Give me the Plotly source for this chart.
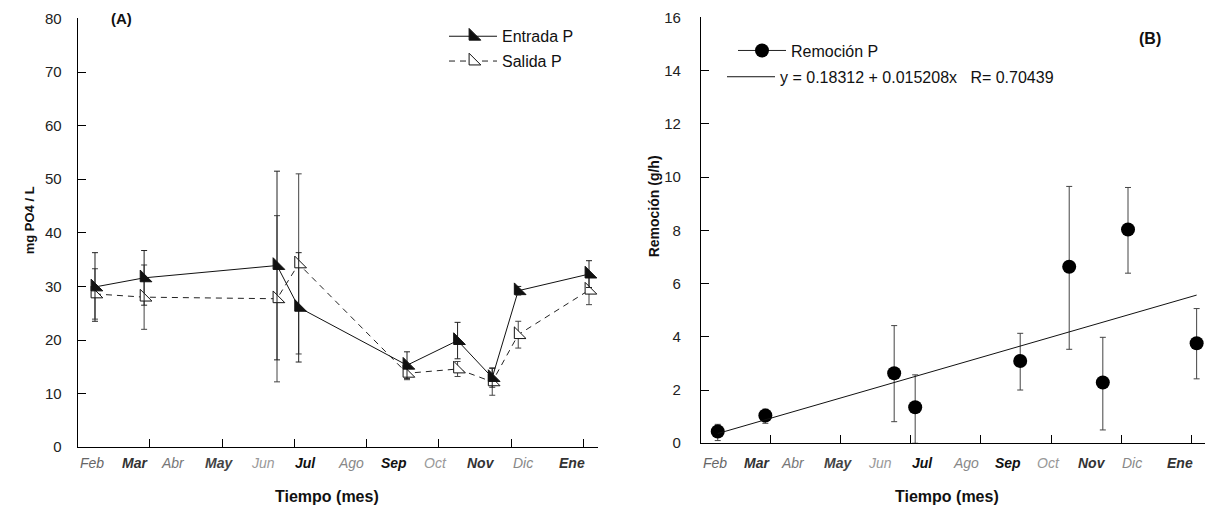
import plotly.graph_objects as go

# ---------------- data ----------------
days = [12, 46, 138, 153, 228, 263, 287, 305, 354]          # sampling day

entrada = [29.9, 31.6, 33.9, 26.1, 15.3, 19.9, 13.0, 29.2, 32.3]
entrada_err = [6.4, 5.1, 17.6, 10.2, 2.5, 3.4, 1.8, 0.8, 2.5]
salida = [28.6, 28.0, 27.7, 34.2, 13.8, 14.6, 12.2, 21.0, 29.3]
salida_err = [4.7, 6.0, 15.5, 16.8, 1.2, 1.4, 2.5, 2.5, 2.7]

remocion = [0.44, 1.04, 2.63, 1.35, 3.09, 6.63, 2.28, 8.03, 3.76]
remocion_up = [0.27, 0.24, 1.79, 1.22, 1.04, 3.02, 1.70, 1.58, 1.30]
remocion_dn = [0.34, 0.29, 1.82, 1.35, 1.09, 3.10, 1.78, 1.64, 1.34]

reg_a = 0.18312
reg_b = 0.015208
reg_label = "y = 0.18312 + 0.015208x\u00a0\u00a0\u00a0R= 0.70439"

month_labels = ["Feb", "Mar", "Abr", "May", "Jun", "Jul", "Ago", "Sep", "Oct", "Nov", "Dic", "Ene"]
month_pos = [10, 40, 66, 98, 128, 158, 189, 219, 248, 279, 308, 342]
month_bold = [False, True, False, True, False, True, False, True, False, True, False, True]
month_color = ["#666", "#333", "#777", "#444", "#999", "#111", "#888", "#111", "#999", "#333", "#888", "#333"]

FONT = "Liberation Sans, Arial, sans-serif"
W, H = 1225, 510


def py(y):
    """target pixel row -> paper fraction (compensates the capture's vertical mapping)"""
    return 1 - ((y - 8.6) / 0.967) / H


def px(x):
    return x / W


fig = go.Figure()

# ---------------- panel A ----------------
fig.add_trace(go.Scatter(
    x=days, y=salida, name="Salida P", mode="lines+markers",
    line=dict(color="#222", width=1, dash="6px,5px"),
    marker=dict(symbol="triangle-sw", size=13, color="white", line=dict(color="#111", width=1)),
    error_y=dict(type="data", array=salida_err, color="#444", thickness=1, width=3),
    xaxis="x", yaxis="y", legend="legend", legendrank=2, legendgroup="s",
))
fig.add_trace(go.Scatter(
    x=days, y=entrada, name="Entrada P", mode="lines+markers",
    line=dict(color="#111", width=1),
    marker=dict(symbol="triangle-sw", size=13, color="#111", line=dict(color="#111", width=1)),
    error_y=dict(type="data", array=entrada_err, color="#222", thickness=1, width=3),
    xaxis="x", yaxis="y", legend="legend", legendrank=1, legendgroup="e",
))

# ---------------- panel B ----------------
# interleave None so that the points are not connected but the legend shows a line
xb, yb, ub, db = [], [], [], []
for d, v, u, l in zip(days, remocion, remocion_up, remocion_dn):
    xb += [d, None]
    yb += [v, None]
    ub += [u, None]
    db += [l, None]

fig.add_trace(go.Scatter(
    x=xb, y=yb, name="Remoción P", mode="lines+markers", connectgaps=False,
    line=dict(color="#222", width=1),
    marker=dict(symbol="circle", size=14, color="black"),
    error_y=dict(type="data", symmetric=False, array=ub, arrayminus=db,
                 color="#444", thickness=1, width=3),
    xaxis="x2", yaxis="y2", legend="legend2",
))
xr = [min(days), max(days)]
yr = [reg_a + reg_b * v for v in xr]
fig.add_trace(go.Scatter(
    x=xr, y=yr, name=reg_label, mode="lines",
    line=dict(color="#111", width=1),
    xaxis="x2", yaxis="y2", legend="legend3",
))

# ---------------- axes ----------------
axis_common = dict(showline=True, linecolor="black", linewidth=1, ticks="inside",
                   ticklen=8, tickcolor="black", showgrid=False, zeroline=False,
                   tickfont=dict(family=FONT, size=15, color="#222"))
xt = [50, 100, 150, 200, 250, 300, 350]
fig.update_layout(
    xaxis=dict(domain=[0.0634, 0.4879], range=[0, 360], tickvals=xt,
               showticklabels=False, anchor="y", **axis_common),
    yaxis=dict(domain=[py(447), py(18)], range=[0, 80], dtick=10,
               anchor="x", ticklabelstandoff=12, **axis_common),
    xaxis2=dict(domain=[0.5722, 0.9837], range=[0, 360], tickvals=xt,
                showticklabels=False, anchor="y2", **axis_common),
    yaxis2=dict(domain=[py(443), py(17)], range=[0, 16], dtick=2,
                anchor="x2", ticklabelstandoff=16, **axis_common),
)

# ---------------- legends ----------------
leg_common = dict(xanchor="left", yanchor="top", bgcolor="rgba(0,0,0,0)", itemwidth=48,
                  font=dict(family=FONT, size=16, color="#111"))
fig.update_layout(
    legend=dict(x=px(444), y=1 - 10.7 / H, tracegroupgap=1, **leg_common),
    legend2=dict(x=px(733), y=1 - 25.4 / H, **leg_common),
    legend3=dict(x=px(722), y=1 - 52.6 / H, **leg_common),
)

# ---------------- annotations ----------------
ann = []
for ax in ["x", "x2"]:
    for lab, pos, b, c in zip(month_labels, month_pos, month_bold, month_color):
        txt = f"<i>{'<b>' + lab + '</b>' if b else lab}</i>"
        ann.append(dict(x=pos, xref=ax, y=py(463), yref="paper", text=txt,
                        showarrow=False, xanchor="center", yanchor="middle",
                        font=dict(family=FONT, size=14, color=c)))


def label(x, y, text, size, angle=0):
    return dict(x=px(x), y=py(y), xref="paper", yref="paper", text=text,
                textangle=angle, showarrow=False, xanchor="center", yanchor="middle",
                font=dict(family=FONT, size=size, color="#111"))


ann += [
    label(327, 496, "<b>Tiempo (mes)</b>", 16),
    label(947, 496, "<b>Tiempo (mes)</b>", 16),
    label(29, 220, "<b>mg PO4 / L</b>", 13, -90),
    label(654, 206, "<b>Remoción (g/h)</b>", 14, -90),
    label(121, 18, "<b>(A)</b>", 15),
    label(1150, 38, "<b>(B)</b>", 16),
]

fig.update_layout(
    width=W, height=H, margin=dict(l=0, r=0, t=0, b=0),
    paper_bgcolor="white", plot_bgcolor="white",
    annotations=ann, showlegend=True,
    font=dict(family=FONT, color="#111"),
)

fig.write_html("out.html")
